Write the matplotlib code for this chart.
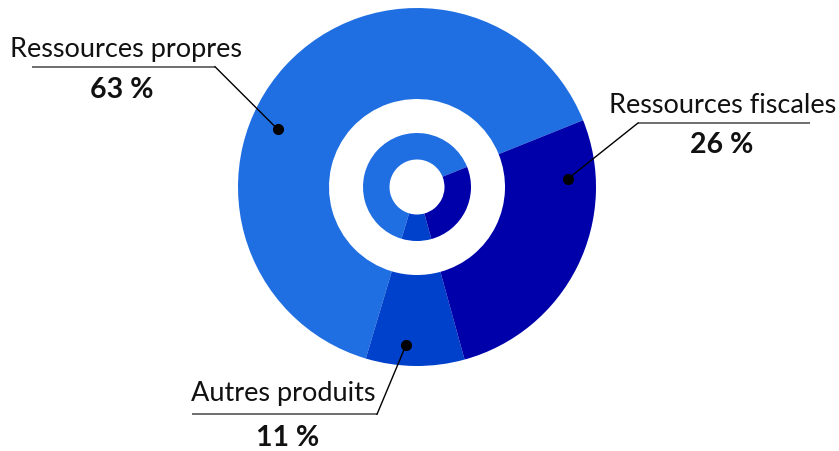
import matplotlib
matplotlib.use("Agg")
import matplotlib.pyplot as plt
import numpy as np

# Données
categories = ["Ressources propres", "Autres produits", "Ressources fiscales"]
parts = [64.3, 8.9, 26.8]          # taille des secteurs (mesurée)
etiquettes = ["63 %", "11 %", "26 %"]  # textes affichés
couleurs = ["#206FE2", "#0041CB", "#0000AA"]

W, H = 839, 451
cx, cy = 417, H - 187
R_ext, R_int = 179, 88
r_ext, r_int = 54, 27.5
depart = 21.9

fig = plt.figure(figsize=(W / 100, H / 100), dpi=100)
ax = fig.add_axes([0, 0, 1, 1])

ax.pie(parts, colors=couleurs, startangle=depart, counterclock=True,
       center=(cx, cy), radius=R_ext,
       wedgeprops=dict(width=R_ext - R_int, linewidth=0))
ax.pie(parts, colors=couleurs, startangle=depart, counterclock=True,
       center=(cx, cy), radius=r_ext,
       wedgeprops=dict(width=r_ext - r_int, linewidth=0))

ax.set_xlim(0, W)
ax.set_ylim(0, H)
ax.set_aspect("auto")
ax.axis("off")

# mise en page des étiquettes (px, y depuis le haut)
# point, souligné (x0, x1, y), x nom, x %, ligne de base nom, ligne de base %
layout = {
    "Ressources propres": ((277.7, 129.3), (32, 215, 66.7), 215, 126, 122, 57, 97.5),
    "Ressources fiscales": ((567.7, 179), (638, 810, 123), 638, 723, 722, 113, 153),
    "Autres produits": ((406, 345), (192, 377, 414.3), 377, 283, 288, 401.5, 446.5),
}

for nom, pct in zip(categories, etiquettes):
    (px, py), (u0, u1, uy), ux, tx, tx2, yb1, yb2 = layout[nom]
    ax.plot([u0, u1], [H - uy, H - uy], color="#555555", lw=1.2, solid_capstyle="butt")
    ax.plot([ux, px], [H - uy, H - py], color="black", lw=1)
    ax.plot(px, H - py, "o", color="black", ms=7)
    ax.text(tx, H - yb1, nom, ha="center", va="baseline", fontsize=19.5,
            family="Lato", fontweight="normal", color="#111111")
    ax.text(tx2, H - yb2, pct, ha="center", va="baseline", fontsize=20.5,
            family="Lato", fontweight="bold", color="#111111")

fig.savefig("out.png", dpi=100)
